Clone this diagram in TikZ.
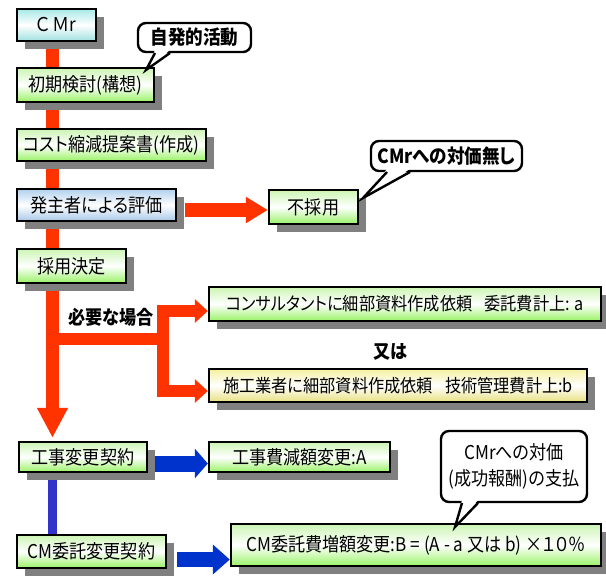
\documentclass[tikz,border=0pt]{standalone}
\usepackage{fontspec}
\setmainfont{Noto Sans CJK JP}[FakeStretch=0.9,RawFeature=+palt]
\usetikzlibrary{arrows.meta,shadows,backgrounds}
\definecolor{redc}{HTML}{FF3300}
\definecolor{bluec}{HTML}{0033CC}
\definecolor{bluev}{HTML}{3333CC}
\definecolor{shadowc}{HTML}{808080}
\definecolor{gtop}{HTML}{CCF5B3}
\definecolor{gbot}{HTML}{99F266}
\definecolor{ctop}{HTML}{A8E8E8}
\definecolor{cbot}{HTML}{A0E0E0}
\definecolor{btop}{HTML}{B0D0EE}
\definecolor{bbot}{HTML}{A8C8E8}
\definecolor{ytop}{HTML}{F5F0A0}
\definecolor{ybot}{HTML}{E8E080}
\begin{document}
\begin{tikzpicture}[x=1pt,y=-1pt,
  box/.style={draw=black, line width=2.4pt, inner sep=0pt,
    font=\fontsize{19}{22}\selectfont,
    general shadow={fill=shadowc, shadow xshift=8pt, shadow yshift=-8pt}},
  greenbox/.style={box, top color=gtop, bottom color=gbot, middle color=white},
  cyanbox/.style={box, top color=ctop, bottom color=cbot, middle color=white},
  bluebox/.style={box, top color=btop, bottom color=bbot, middle color=white},
  yellowbox/.style={box, top color=ytop, bottom color=ybot, middle color=white},
  longtext/.style={font=\fontsize{18}{22}\selectfont},
  callout/.style={draw=black, fill=white, line width=2.4pt, rounded corners=8pt,
    inner sep=0pt, font=\fontsize{19.5}{23}\selectfont\bfseries, align=center},
  tail/.style={draw=black, line width=2.4pt, line join=miter},
  lbl/.style={font=\fontsize{19}{22}\selectfont\bfseries, inner sep=0pt},
  redline/.style={draw=redc, line width=13pt},
  bluevline/.style={draw=bluev, line width=9pt},
]
\useasboundingbox (0,0) rectangle (606,579);

% boxes
\node[cyanbox, minimum width=79pt, minimum height=32pt] (cmr) at (56.5,25) {Ｃ\,Ｍr};
\node[greenbox, minimum width=137pt, minimum height=34pt] (shoki) at (85.5,85) {初期検討(構想)};
\node[greenbox, minimum width=189pt, minimum height=32pt] (cost) at (111.5,145) {コスト縮減提案書(作成)};
\node[bluebox, minimum width=159pt, minimum height=32pt] (hyoka) at (96.5,205) {発主者による評価};
\node[greenbox, minimum width=109pt, minimum height=34pt] (saiyo) at (71.5,266) {採用決定};
\node[greenbox, minimum width=89pt, minimum height=34pt] (fusai) at (313.5,207) {不採用};
\node[greenbox, longtext, minimum width=392pt, minimum height=34pt] (consul) at (405,304) {コンサルタントに細部資料作成依頼\hspace{12pt}委託費計上: a};
\node[yellowbox, longtext, minimum width=378pt, minimum height=33pt] (sekou) at (398,385.5) {施工業者に細部資料作成依頼\hspace{12pt}技術管理費計上:b};
\node[greenbox, minimum width=128pt, minimum height=30pt] (kouji) at (83,457) {工事変更契約};
\node[greenbox, minimum width=181pt, minimum height=30pt] (kojihi) at (299.5,457) {工事費減額変更:A};
\node[greenbox, minimum width=149pt, minimum height=33pt] (cmkei) at (91.5,551.5) {CM委託変更契約};
\node[greenbox, minimum width=370pt, minimum height=42pt] (cmhi) at (416,545) {CM委託費増額変更:B = (A - a 又は b) ×１０％};

% labels
\node[lbl] (hitsuyo) at (111,317) {必要な場合};
\node[lbl] (mataha) at (390,352) {又は};

% connectors behind boxes
\coordinate (tx) at (52.5,0);
\begin{scope}[on background layer]
  \draw[redline] (cmr.south -| tx) -- (saiyo.north -| tx);
  \draw[redc, line width=13pt, -{Triangle[length=30pt,width=29pt]}]
    (saiyo.south -| tx) -- ([yshift=3pt]kouji.north -| tx);
  \draw[bluevline] (kouji.south -| tx) -- (cmkei.north -| tx);
\end{scope}

% branch
\coordinate (j1) at (52.5,339);
\coordinate (br) at (163,339);
\draw[redline, line width=12pt] (j1) -- (br);
\draw[redc, line width=12pt, line join=miter, -{Triangle[length=13pt,width=23pt]}]
  (br) |- ([yshift=-7pt]consul.west);
\draw[redc, line width=12pt, line join=miter, -{Triangle[length=13pt,width=23pt]}]
  (br) |- ([yshift=-5.5pt]sekou.west);

% evaluation -> not adopted
\coordinate (s1) at ([xshift=8pt,yshift=-5pt]hyoka.east);
\draw[redc, line width=14pt, -{Triangle[length=22pt,width=25pt]}] (s1) -- (s1 -| fusai.west);

% blue arrows
\coordinate (s2) at ([xshift=7pt,yshift=-6.5pt]kouji.east);
\draw[bluec, line width=16pt, -{Triangle[length=13pt,width=29pt]}] (s2) -- (s2 -| kojihi.west);
\coordinate (s3) at ([xshift=10pt,yshift=-8pt]cmkei.east);
\draw[bluec, line width=15pt, -{Triangle[length=17pt,width=29pt]}] (s3) -- (s3 -| cmhi.west);

% callout 1
\node[callout, minimum width=113pt, minimum height=29pt] (c1) at (194.5,37.5) {自発的活動};
\coordinate (c1a) at (155,53);
\coordinate (c1b) at (170,53);
\coordinate (c1t) at (146,70);
\fill[white] ([yshift=3pt]c1a) -- (c1t) -- ([yshift=3pt]c1b) -- cycle;
\draw[tail] (c1a) -- (c1t) -- (c1b);

% callout 2
\node[callout, minimum width=151pt, minimum height=30pt] (c2) at (446.5,156) {CMrへの対価無し};
\coordinate (c2a) at (387,172);
\coordinate (c2b) at (410,172);
\coordinate (c2t) at (363,198);
\fill[white] ([yshift=3pt]c2a) -- (c2t) -- ([yshift=3pt]c2b) -- cycle;
\draw[tail] (c2a) -- (c2t) -- (c2b);

% callout 3
\node[callout, font=\fontsize{19}{26}\selectfont, minimum width=146pt, minimum height=71pt] (c3) at (514,466.5) {CMrへの対価\\(成功報酬)の支払};
\coordinate (c3a) at (462,503);
\coordinate (c3b) at (478,503);
\coordinate (c3t) at (455,527);
\fill[white] ([yshift=3pt]c3a) -- (c3t) -- ([yshift=3pt]c3b) -- cycle;
\draw[tail] (c3a) -- (c3t) -- (c3b);
\end{tikzpicture}
\end{document}
